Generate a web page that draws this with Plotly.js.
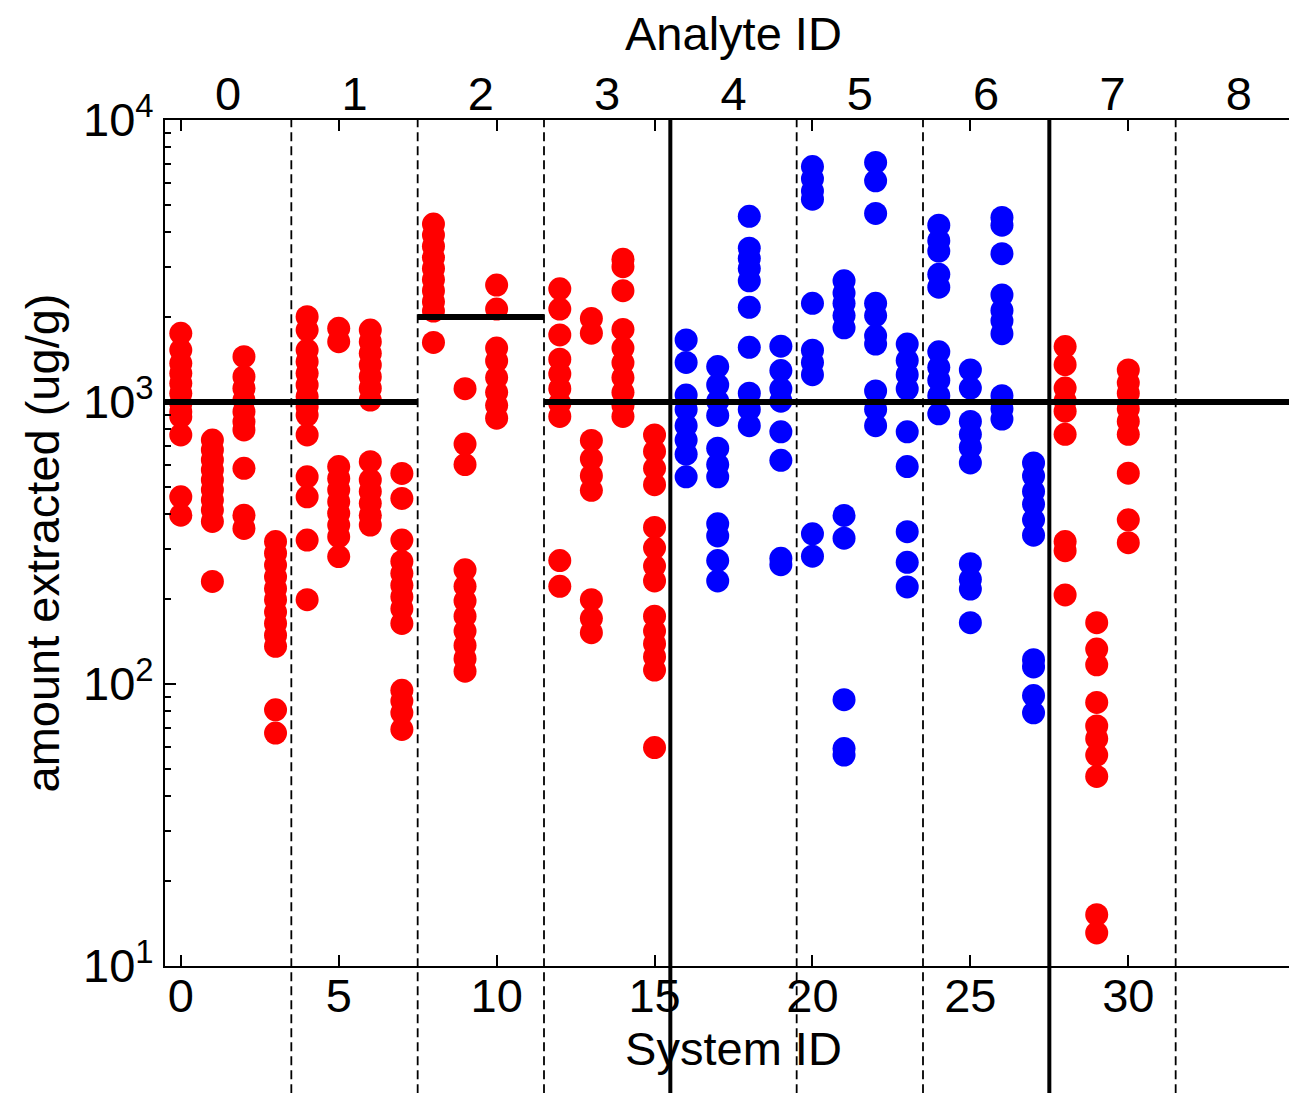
<!DOCTYPE html>
<html>
<head>
<meta charset="utf-8">
<script src="https://cdn.plot.ly/plotly-3.0.1.min.js"></script>
<style>html,body{margin:0;padding:0;overflow:hidden;background:#fff}</style>
</head>
<body>
<div id="chart"></div>
<script>
// ---- data ----
const analyteLabels = ['0','1','2','3','4','5','6','7','8'];
// each analyte: four systems, each a list of amounts extracted (ug/g)
const analyte0 = [
  [1752,1528,1371,1264,1165,1074,989,924,887,764,461,397],
  [733,676,623,574,529,488,449,414,377,231],
  [1448,1230,1119,1016,924,851,796,582,397,356],
  [320,291,264,240,218,199,180,164,149,136,81,67]
];
const analyte1 = [
  [2007,1799,1528,1390,1264,1149,1045,962,899,764,543,461,324,199],
  [1825,1637,590,536,488,443,403,366,333,283],
  [1799,1637,1488,1353,1230,1119,1016,614,529,482,437,397,366],
  [558,455,324,272,247,224,204,185,164,95,87,79,69]
];
const analyte2 = [
  [4277,3908,3569,3259,2977,2718,2482,2268,2102,1626],
  [1115,709,600,254,222,197,174,154,137,123,111],
  [2597,2135,1554,1398,1221,1082,973,876],
  []
];
const analyte3 = [
  [2520,2135,1729,1419,1258,1115,989,889,274,222],
  [1979,1754,731,628,548,486,199,171,152],
  [3208,3020,2482,1808,1554,1377,1221,1082,973,889],
  [764,668,582,509,359,304,262,232,174,154,139,125,112,59.5]
];
const analyte4 = [
  [1660,1382,1058,941,824,733,653,543],
  [1336,1150,1007,896,686,600,543,370,335,274,232],
  [4555,3511,3231,2972,2691,2167,1563,1075,941,824],
  [1578,1292,1112,1007,784,621,279,265]
];
const analyte5 = [
  [6840,6188,5597,5237,2239,1527,1382,1250,341,284],
  [2691,2434,2239,2026,1833,396,329,88,59,56],
  [7074,6087,4661,2239,2026,1716,1605,1094,941,824],
  [1605,1404,1250,1112,784,590,347,270,221]
];
const analyte6 = [
  [4236,3733,3428,2837,2553,1507,1327,1195,1053,908],
  [1299,1121,853,768,690,608,267,235,217,165],
  [4511,4236,3358,2396,2111,1941,1747,1053,947,870],
  [608,547,482,434,382,337,122,115,91,79]
];
const analyte7 = [
  [1572,1356,1121,1009,928,768,320,297,207],
  [165,133,117,86,71,64,56,47,15.2,13.1],
  [1299,1170,1075,947,853,768,559,382,317],
  []
];
const analyte8 = [[],[],[],[]];
const analyteGroup = [0,0,0,0,1,1,1,2,2];
const referenceLevel = [1000,1000,2000,1000,1000,1000,1000,1000,1000];
const systemTicks = [0,5,10,15,20,25,30];
const yTickVals = [10,100,1000,10000];
const yTickText = ['10<sup>1</sup>','10<sup>2</sup>','10<sup>3</sup>','10<sup>4</sup>'];

// ---- build ----
const analyteData = [analyte0,analyte1,analyte2,analyte3,analyte4,analyte5,analyte6,analyte7,analyte8];
const perAnalyte = 4;
const FONT = 'Liberation Sans, Arial, sans-serif';
const FS = 47;

const redPts = {x:[], y:[]}, bluePts = {x:[], y:[]};
analyteData.forEach((systems, a) => {
  systems.forEach((vals, j) => {
    const sid = a * perAnalyte + j;
    const tgt = analyteGroup[a] === 1 ? bluePts : redPts;
    vals.forEach(v => { tgt.x.push(sid); tgt.y.push(v); });
  });
});

const traces = [
  {type:'scatter', mode:'markers', x:redPts.x, y:redPts.y, marker:{color:'#ff0000', size:23, line:{width:0}}, showlegend:false, hoverinfo:'skip'},
  {type:'scatter', mode:'markers', x:bluePts.x, y:bluePts.y, marker:{color:'#0000ff', size:23, line:{width:0}}, showlegend:false, hoverinfo:'skip'}
];
referenceLevel.forEach((lvl, a) => {
  traces.push({type:'scatter', mode:'lines',
    x:[a*perAnalyte - 0.5, a*perAnalyte + perAnalyte - 0.5], y:[lvl, lvl],
    line:{color:'#000', width:6}, showlegend:false, hoverinfo:'skip'});
});
// empty trace so the top (analyte) axis exists
traces.push({type:'scatter', mode:'markers', x:[], y:[], xaxis:'x2', yaxis:'y', showlegend:false});

const nSys = analyteLabels.length * perAnalyte;
const xRange = [-0.5, nSys - 0.5];

const shapes = [];
for (let a = 0; a < analyteLabels.length - 1; a++) {
  const solid = analyteGroup[a] !== analyteGroup[a+1];
  shapes.push({type:'line', xref:'x', yref:'paper',
    x0:a*perAnalyte + perAnalyte - 0.5, x1:a*perAnalyte + perAnalyte - 0.5, y0:-0.2, y1:1,
    line:{color:'#000', width: solid ? 4 : 1.8, dash: solid ? 'solid' : '9px,5px'}, layer:'above'});
}

const layout = {
  width:1320, height:1093,
  margin:{l:165, r:18, t:120, b:127},
  paper_bgcolor:'#fff', plot_bgcolor:'#fff',
  font:{family:FONT, size:FS, color:'#000'},
  showlegend:false,
  xaxis:{
    range:xRange, tickmode:'array', tickvals:systemTicks, ticktext:systemTicks.map(String),
    ticks:'inside', ticklen:11, tickwidth:2, tickcolor:'#000',
    showline:true, linewidth:2, linecolor:'#000', mirror:'ticks',
    showgrid:false, zeroline:false, ticklabelstandoff:-12,
    tickfont:{family:FONT, size:FS},
    title:{text:'System ID', font:{family:FONT, size:FS}, standoff:0}
  },
  xaxis2:{
    overlaying:'x', side:'top', anchor:'y', range:xRange,
    tickmode:'array', tickvals:analyteLabels.map((_, a) => a*perAnalyte + (perAnalyte-1)/2), ticktext:analyteLabels,
    ticks:'', showline:false, showgrid:false, zeroline:false,
    tickfont:{family:FONT, size:FS}
  },
  yaxis:{
    type:'log', range:[1,4],
    tickmode:'array', tickvals:yTickVals, ticktext:yTickText,
    ticks:'inside', ticklen:11, tickwidth:2, tickcolor:'#000',
    minor:{ticks:'inside', ticklen:6, tickwidth:2, tickcolor:'#000', dtick:'D1', showgrid:false},
    showline:true, linewidth:2, linecolor:'#000', mirror:'ticks',
    showgrid:false, zeroline:false,
    tickfont:{family:FONT, size:FS},
    title:{text:'amount extracted (ug/g)', font:{family:FONT, size:FS}, standoff:9}
  },
  annotations:[{
    text:'Analyte ID', xref:'paper', yref:'paper', x:0.5, y:1,
    xanchor:'center', yanchor:'middle', yshift:87, showarrow:false,
    font:{family:FONT, size:FS, color:'#000'}
  }],
  shapes:shapes
};

Plotly.newPlot('chart', traces, layout, {displayModeBar:false, staticPlot:true});
</script>
</body>
</html>
